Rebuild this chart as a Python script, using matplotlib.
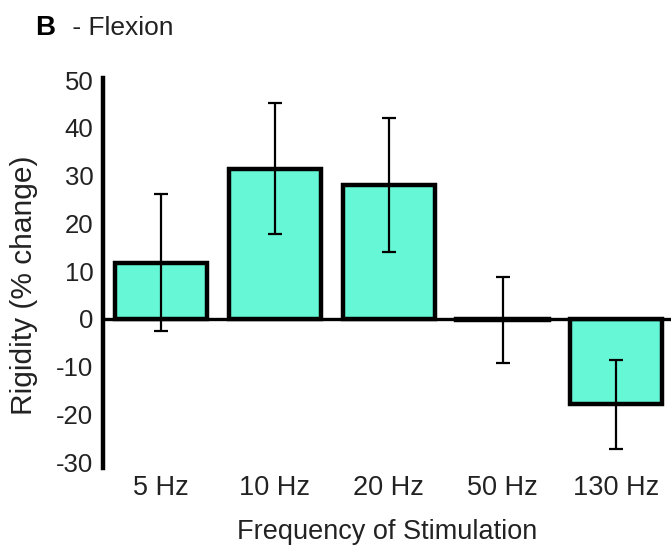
import matplotlib

matplotlib.use("Agg")
import matplotlib.pyplot as plt

plt.rcParams["font.family"] = ["Liberation Sans", "DejaVu Sans"]

# Rigidity change during flexion, per stimulation frequency (mean +/- error)
freqs = ["5 Hz", "10 Hz", "20 Hz", "50 Hz", "130 Hz"]
rigidity = [11.8, 31.5, 28.0, -0.3, -17.9]
errors = [14.3, 13.8, 14.0, 9.0, 9.3]
yticks = [50, 40, 30, 20, 10, 0, -10, -20, -30]

BAR = "#66f8d6"
INK = "#222222"

fig = plt.figure(figsize=(6.71, 5.47), dpi=100)
ax = fig.add_axes([0.1535, 0.1444, 0.8465, 0.7126])

x = list(range(len(freqs)))
ax.bar(x, rigidity, width=0.81, color=BAR, edgecolor="black", linewidth=3.2, zorder=2)
ax.errorbar(x, rigidity, yerr=errors, fmt="none", ecolor="black",
            elinewidth=1.6, capsize=5, capthick=1.6, zorder=3)
ax.axhline(0, color="black", linewidth=2.4, zorder=4)

ax.set_xlim(-0.51, 4.48)
ax.set_ylim(-31.2, 50.4)
ax.set_yticks(yticks)
ax.set_yticklabels([str(v) for v in yticks])
ax.set_xticks(x)
ax.set_xticklabels(freqs)
ax.tick_params(axis="y", length=0, labelsize=18.5, colors=INK, pad=7)
ax.tick_params(axis="x", length=0, labelsize=19.5, colors=INK, pad=5)

for side in ("top", "right", "bottom"):
    ax.spines[side].set_visible(False)
ax.spines["left"].set_linewidth(3.2)

ax.set_xlabel("Frequency of Stimulation", fontsize=19.5, color=INK, labelpad=13)
ax.set_ylabel("Rigidity (% change)", fontsize=21.5, color=INK)
ax.yaxis.set_label_coords(-0.114, 0.469)

fig.text(0.052, 0.948, "B", fontsize=20, fontweight="bold", va="center", ha="left")
fig.text(0.097, 0.948, " - Flexion", fontsize=19, va="center", ha="left", color=INK)

fig.savefig("out.png", dpi=100, facecolor="white")
